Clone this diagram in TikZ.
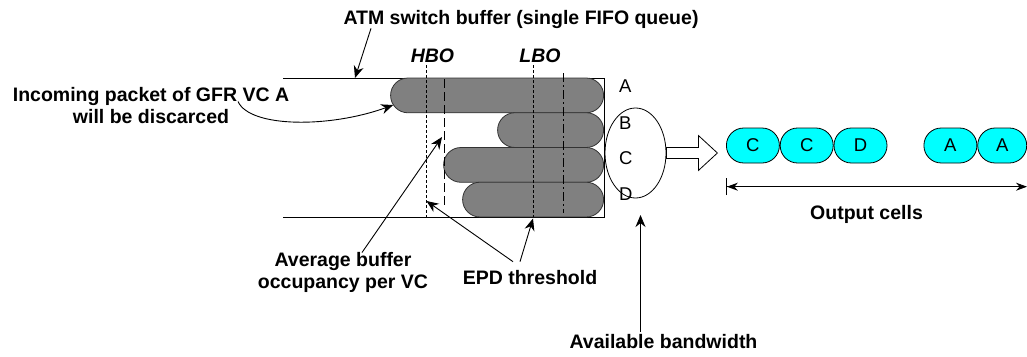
\documentclass[tikz,border=0pt]{standalone}
\usepackage{fontspec}
\setmainfont{Liberation Sans}
\usetikzlibrary{arrows.meta, shapes.geometric, positioning}
\definecolor{qGrey}{HTML}{808080}
\definecolor{cellCyan}{HTML}{00FFFF}
\newcommand{\lblfont}{\fontsize{19.5}{21.5}\selectfont\bfseries}
\tikzset{
  lbl/.style      = {font=\lblfont, inner sep=0pt, align=center},
  thr/.style      = {font=\lblfont\itshape, inner sep=0pt, anchor=base},
  vcl/.style      = {font=\fontsize{18.5}{20}\selectfont, inner sep=0pt, anchor=west},
  qcell/.style    = {draw=black!80, fill=qGrey, line width=0.8pt, rounded corners=17.3pt,
                     minimum height=34.75pt, anchor=east},
  ocell/.style    = {draw=black, fill=cellCyan, line width=0.8pt, rounded corners=17.4pt,
                     minimum width=53pt, minimum height=35pt, inner sep=0pt,
                     font=\fontsize{18.5}{20}\selectfont},
  lead/.style     = {-{Stealth[length=12pt, width=10pt]}, line width=0.9pt},
  frame/.style    = {line width=0.9pt},
  hboline/.style  = {line width=0.8pt, dash pattern=on 3pt off 2pt},
  rimline/.style  = {line width=0.8pt, dash pattern=on 9pt off 4pt},
  dotdash/.style  = {line width=0.8pt, dash pattern=on 9pt off 3pt on 2pt off 3pt},
}

\begin{document}
\begin{tikzpicture}[x=1pt, y=-1pt]
  \useasboundingbox (0,0) rectangle (1027,356);
  % buffer and queued packets
  \draw[frame] (283,78) -| (604,217) -- (283,217);
  \node[qcell, minimum width=213pt] (qA) at (604,95.4) {};
  \node[qcell, minimum width=106pt] (qB) at (604,130.1) {};
  \node[qcell, minimum width=160pt] (qC) at (604,164.9) {};
  \node[qcell, minimum width=141pt] (qD) at (604,199.6) {};
  % thresholds
  \draw[hboline] (426,65) -- (426,217);
  \draw[rimline] (444,79) -- (444,208);
  \draw[hboline] (533,65) -- (533,217);
  \draw[dotdash] (563,73) -- (563,213);
  \node[thr] (hbo) at (432.5,62) {HBO};
  \node[thr] (lbo) at (540,62) {LBO};
  % VC names and scheduler
  \node[vcl] (vA) at (619,86.5) {A};
  \node[vcl] (vB) at (619,123.5) {B};
  \node[vcl] (vC) at (619,158) {C};
  \node[vcl] (vD) at (619,194.5) {D};
  \node[ellipse, draw, line width=0.8pt, minimum width=61pt, minimum height=90pt,
        inner sep=0pt] (bw) at (635.5,153) {};
  \draw[line width=0.8pt, fill=white] (bw.east) ++(0,-5.5) -- ++(32,0) -- ++(0,-12)
    -- ++(19,17.5) -- ++(-19,17.5) -- ++(0,-12) -- ++(-32,0) -- cycle;
  % output cells
  \node[ocell, anchor=west] (o1) at (726,145.5) {C};
  \node[ocell, right=0pt of o1] (o2) {C};
  \node[ocell, right=0pt of o2] (o3) {D};
  \node[ocell, anchor=west] (o4) at (923.5,145.5) {A};
  \node[ocell, right=0pt of o4, minimum width=49pt] (o5) {A};
  \coordinate (outL) at (726,186.7);
  \coordinate (outR) at (1027,186.7);
  \draw[{Bar[width=17pt] Stealth[length=11pt, width=8pt]}-{Stealth[length=11pt, width=8pt]},
        line width=0.9pt] (outL) -- (outR);
  \node[lbl, anchor=base] (outlbl) at (866.5,219) {Output cells};
  % labels with leaders
  \node[lbl, anchor=base] (atm) at (521,24) {ATM switch buffer (single FIFO queue)};
  \coordinate (atmTip) at (355,78);
  \draw[lead] ([xshift=-150pt]atm.south) -- (atmTip);
  \node[lbl, anchor=north] (inc) at (151,87.5) {Incoming packet of GFR VC A\\will be discarced};
  \draw[lead] ([xshift=87pt, yshift=-14pt]inc.north) .. controls (250,128) and (330,128)
    .. ([xshift=3pt, yshift=-9.6pt]qA.west);
  \node[lbl, anchor=north] (avg) at (343,252.5) {Average buffer\\occupancy per VC};
  \coordinate (avgTip) at (442,137);
  \draw[lead] ([xshift=19pt]avg.north) -- (avgTip);
  \node[lbl, anchor=base] (epd) at (530,284) {EPD threshold};
  \coordinate (hboTip) at (426.5,201);
  \coordinate (lboTip) at (533,218.5);
  \draw[lead] ([xshift=-17pt, yshift=8pt]epd.north) -- (hboTip);
  \draw[lead] ([xshift=-10pt, yshift=8pt]epd.north) -- (lboTip);
  \node[lbl, anchor=base] (avail) at (663.5,348) {Available bandwidth};
  \coordinate (availTip) at (640.5,215);
  \draw[lead] ([xshift=-23pt, yshift=2pt]avail.north) -- (availTip);
\end{tikzpicture}
\end{document}
